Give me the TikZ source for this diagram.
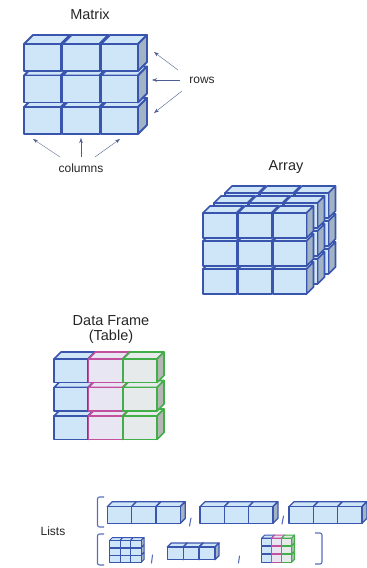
\documentclass[tikz,border=0pt]{standalone}
\usepackage{fontspec}
\setmainfont{Liberation Sans}
\usepackage{xcolor}
\usetikzlibrary{arrows.meta}
\definecolor{bline}{HTML}{3A55AE}
\definecolor{bface}{HTML}{CFE5F8}
\definecolor{bside}{HTML}{A3B3C6}
\definecolor{mline}{HTML}{C2509E}
\definecolor{mface}{HTML}{E8E6F2}
\definecolor{mside}{HTML}{C4B8CA}
\definecolor{gline}{HTML}{42AE48}
\definecolor{gface}{HTML}{E7EAEA}
\definecolor{gside}{HTML}{B4B6B6}
\definecolor{arrowc}{HTML}{4E5E92}
\newcommand*{\cube}[6]{%
  % #1,#2: front top-left corner (y grows downwards)
  % #3: width, #4: height, #5: depth
  % #6: colour prefix (b, m or g)
  \filldraw[draw=#6line, fill=#6face] (#1,#2) -- ++(#5,-#5) -- ++(#3,0) -- ++(-#5,#5) -- cycle;
  \filldraw[draw=#6line, fill=#6side] (#1+#3,#2) -- ++(#5,-#5) -- ++(0,#4) -- ++(-#5,#5) -- cycle;
  \filldraw[draw=#6line, fill=#6face] (#1,#2) rectangle ++(#3,#4);%
}

\begin{document}
\begin{tikzpicture}[x=1pt, y=-1pt, line join=round,
  title/.style={font=\fontsize{14.5}{15}\selectfont, text=black!85, align=center},
  label/.style={font=\fontsize{12}{14}\selectfont, text=black!85},
  arr/.style={-{Stealth[length=5pt,width=3.5pt]}, thin, draw=arrowc},
  brack/.style={draw=bline!85, line width=1.1pt, rounded corners=2pt},
  comma/.style={draw=bline!85, line width=1.1pt, line cap=round}]
\useasboundingbox (0,0) rectangle (367,568);

% matrix
\node[title] (matrix) at (90,14) {Matrix};
\begin{scope}[line width=1.8pt]
\foreach \r in {2,1,0} \foreach \c in {0,1,2}
  \cube{24+38.5*\c}{44+31.5*\r}{37}{27}{9}{b};
\end{scope}
\node[label] (rows) at (202,80) {rows};
\coordinate (rt1) at (178,70);
\coordinate (rt2) at (180,80);
\coordinate (rt3) at (182,91);
\coordinate (rh1) at (154,52);
\coordinate (rh2) at (152,80);
\coordinate (rh3) at (154,113);
\draw[arr] (rt1) -- (rh1);
\draw[arr] (rt2) -- (rh2);
\draw[arr] (rt3) -- (rh3);
\node[label] (columns) at (81,168) {columns};
\coordinate (ct1) at (60,157);
\coordinate (ct2) at (81,157);
\coordinate (ct3) at (95,157);
\coordinate (ch1) at (33,139);
\coordinate (ch2) at (81,138);
\coordinate (ch3) at (120,139);
\draw[arr] (ct1) -- (ch1);
\draw[arr] (ct2) -- (ch2);
\draw[arr] (ct3) -- (ch3);

% array
\node[title] (array) at (286,167) {Array};
\begin{scope}[line width=1.6pt]
\foreach \l in {2,1,0} \foreach \r in {2,1,0} \foreach \c in {0,1,2}
  \cube{203+11*\l+35*\c}{213-10*\l+28*\r}{33.5}{25}{7}{b};
\end{scope}

% data frame
\node[title] (frame) at (111,330) {Data Frame\\(Table)};
\begin{scope}[line width=1.6pt]
\foreach \r in {2,1,0} \foreach \c/\k in {0/b,1/m,2/g}
  \cube{54+34.5*\c}{359+28.5*\r}{34}{23.5}{7}{\k};
\end{scope}

% lists
\node[label] (lists) at (53,531) {Lists};
\draw[brack] (104,497) -- (97.5,497) -- (97.5,527) -- (104,527);
\draw[brack] (104,534) -- (97.5,534) -- (97.5,565) -- (104,565);
\draw[brack] (315,533) -- (322,533) -- (322,564) -- (315,564);
\begin{scope}[line width=1.3pt]
\foreach \g in {107.3,200,289} \foreach \c in {0,1,2}
  \cube{\g+24.3*\c}{506.7}{24.3}{16.7}{5}{b};
\foreach \c in {0,1,2}
  \cube{167.3+15.9*\c}{547}{15.9}{12.7}{4}{b};
\end{scope}
\begin{scope}[line width=1pt]
\foreach \r in {2,1,0} \foreach \c in {0,1,2}
  \cube{109.5+10.5*\c}{540.5+7.5*\r}{10.5}{7}{3}{b};
\foreach \r in {2,1,0} \foreach \c/\k in {0/b,1/m,2/g}
  \cube{261.7+10*\c}{538+8.3*\r}{10}{7.5}{3}{\k};
\end{scope}
\draw[comma] (191,518) -- (189.5,526);
\draw[comma] (283.5,516) -- (282,524);
\draw[comma] (152.5,555) -- (151.5,563);
\draw[comma] (239.5,556) -- (238.5,563);
\end{tikzpicture}
\end{document}
